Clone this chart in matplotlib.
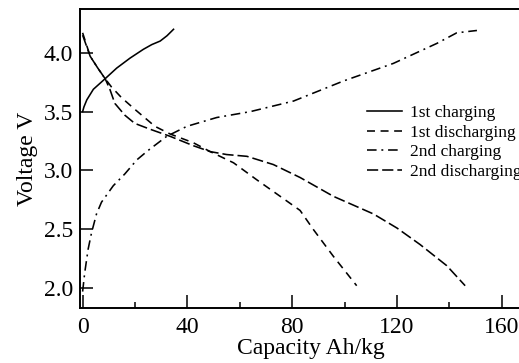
import matplotlib
matplotlib.use("Agg")
import matplotlib.pyplot as plt
from matplotlib.ticker import MultipleLocator

plt.rcParams['font.family'] = ['Liberation Serif', 'DejaVu Serif']

# 1st charging (solid)
c1_x = [0, 0.5, 1.6, 4.1, 8.6, 13.0, 18.1, 23.2, 26.4, 29.6, 32.2, 34.7]
c1_y = [3.50, 3.54, 3.60, 3.69, 3.78, 3.87, 3.955, 4.03, 4.07, 4.10, 4.145, 4.20]

# 1st discharging
d1_x = [0, 2.9, 5.8, 8.6, 11, 14.8, 19.9, 27.6, 33.4, 42.3, 48.7, 57.6, 66.5, 75.4, 83, 88, 95.7, 104.6]
d1_y = [4.17, 3.97, 3.87, 3.78, 3.71, 3.62, 3.52, 3.375, 3.31, 3.235, 3.16, 3.065, 2.92, 2.78, 2.66, 2.50, 2.27, 2.02]

# 2nd charging
c2_x = [0, 0.8, 2.1, 3.4, 5.3, 7.2, 11.7, 16.1, 20.7, 25, 32.1, 39.8, 51.2, 64, 80.5, 99.5, 118.6, 135.2, 142.8, 150.5]
c2_y = [1.97, 2.13, 2.33, 2.47, 2.63, 2.73, 2.87, 2.97, 3.09, 3.17, 3.29, 3.375, 3.45, 3.50, 3.59, 3.76, 3.91, 4.08, 4.17, 4.19]

# 2nd discharging
d2_x = [0, 2.9, 5.8, 8.6, 10.4, 12.3, 16.1, 19.9, 25.8, 33.4, 42.3, 48.7, 55, 62.7, 72.8, 83, 95.7, 111, 120, 128.8, 139, 146]
d2_y = [4.15, 3.97, 3.87, 3.78, 3.69, 3.57, 3.47, 3.40, 3.35, 3.29, 3.21, 3.16, 3.135, 3.12, 3.05, 2.94, 2.78, 2.63, 2.51, 2.37, 2.19, 2.02]

labels = ['1st charging', '1st discharging', '2nd charging', '2nd discharging']

W, H = 519, 363
fig = plt.figure(figsize=(W / 100, H / 100), dpi=100)
x0_px, y_bot_px, y_top_px = 80, 307.7, 9.3
xmin, xmax = -1, 175
px_per_unit = 2.62
ax = fig.add_axes([x0_px / W, (H - y_bot_px) / H,
                   (xmax - xmin) * px_per_unit / W, (y_bot_px - y_top_px) / H])

lw = 1.15
ax.plot(c1_x, c1_y, color='black', lw=lw, linestyle='-', label=labels[0])
ax.plot(d1_x, d1_y, color='black', lw=lw, linestyle=(0, (5, 3.5)), label=labels[1])
ax.plot(c2_x, c2_y, color='black', lw=lw, linestyle=(0, (6, 3, 1.2, 3)), label=labels[2])
ax.plot(d2_x, d2_y, color='black', lw=lw, linestyle=(0, (7, 2.5)), label=labels[3])

ax.set_xlim(xmin, xmax)
ax.set_ylim(1.833, 4.37)
ax.xaxis.set_major_locator(MultipleLocator(40))
ax.xaxis.set_minor_locator(MultipleLocator(20))
ax.yaxis.set_major_locator(MultipleLocator(0.5))
ax.yaxis.set_major_formatter(matplotlib.ticker.FormatStrFormatter('%.1f'))

ax.tick_params(axis='both', which='major', direction='in', length=9.5, width=1.1,
               labelsize=17, colors='black')
ax.tick_params(axis='x', which='major', pad=7)
ax.tick_params(axis='y', which='major', pad=5)
ax.tick_params(axis='x', which='minor', direction='in', length=4.3, width=1.1)
ax.tick_params(axis='y', which='minor', left=False)

for s in ax.spines.values():
    s.set_linewidth(1.4)
ax.spines['right'].set_visible(False)

ax.set_xlabel('Capacity Ah/kg', fontsize=17, labelpad=0)
ax.set_ylabel('Voltage V', fontsize=17, labelpad=4)

leg = fig.legend(loc='upper left', bbox_to_anchor=(367 / W, 1 - 105 / H),
                 frameon=False, fontsize=12.5, handlelength=2.0,
                 handletextpad=0.5, labelspacing=0.2, borderpad=0, borderaxespad=0)

fig.savefig('out.png', dpi=100)
